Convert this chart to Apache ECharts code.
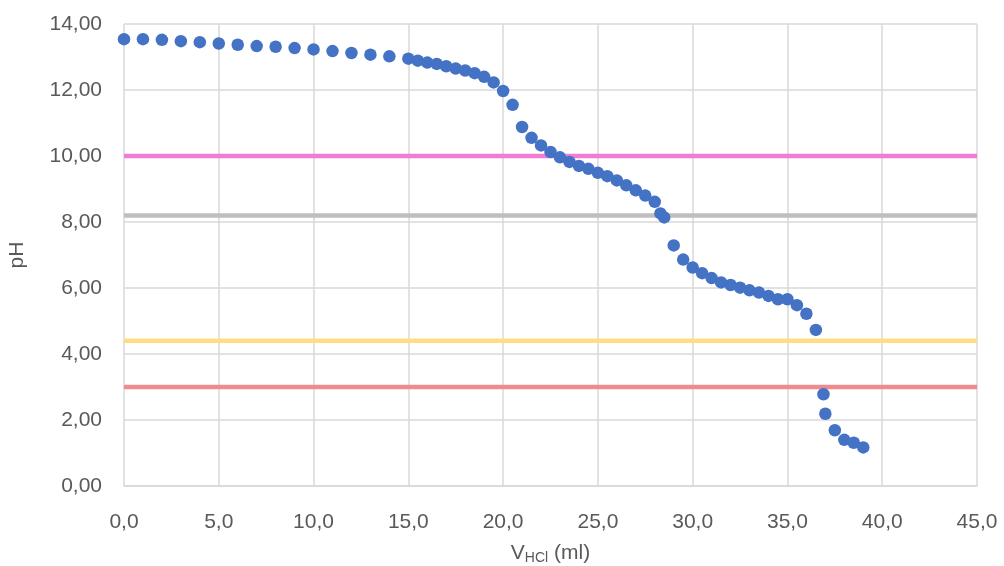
<!DOCTYPE html>
<html>
<head>
<meta charset="utf-8">
<script src="https://cdn.jsdelivr.net/npm/echarts@6/dist/echarts.min.js"></script>
<style>html,body{margin:0;padding:0;background:#fff}#c{width:1004px;height:566px}</style>
</head>
<body>
<div id="c"></div>
<script>
const volumes = [0,1,2,3,4,5,6,7,8,9,10,11,12,13,14,15,15.5,16,16.5,17,17.5,18,18.5,19,19.5,20,20.5,21,21.5,22,22.5,23,23.5,24,24.5,25,25.5,26,26.5,27,27.5,28,28.3,28.5,29,29.5,30,30.5,31,31.5,32,32.5,33,33.5,34,34.5,35,35.5,36,36.5,36.9,37,37.5,38,38.5,39];
const phValues = [13.54,13.54,13.52,13.48,13.45,13.41,13.37,13.33,13.31,13.27,13.23,13.18,13.12,13.07,13.02,12.95,12.89,12.83,12.79,12.72,12.65,12.59,12.51,12.40,12.23,11.97,11.55,10.88,10.55,10.32,10.12,9.96,9.82,9.70,9.61,9.49,9.39,9.26,9.11,8.96,8.80,8.61,8.26,8.14,7.29,6.86,6.62,6.45,6.30,6.17,6.09,6.01,5.93,5.86,5.76,5.66,5.66,5.48,5.22,4.73,2.78,2.19,1.69,1.40,1.31,1.17];
const indicatorLevels = [10.0, 8.2, 4.4, 3.0];
const indicatorColors = ['#F07CD4', '#BFBFBF', '#FFDD80', '#EE8A90'];
const xRange = [0, 45];

const chart = echarts.init(document.getElementById('c'), null, {renderer: 'canvas'});
const font = '"Liberation Sans", Arial, sans-serif';
const series = indicatorLevels.map((lv, i) => ({
  type: 'line',
  data: [[xRange[0], lv], [xRange[1], lv]],
  symbol: 'none',
  lineStyle: {color: indicatorColors[i], width: 4.5},
  silent: true,
  z: 2
}));
series.push({
  type: 'scatter',
  data: volumes.map((v, i) => [v, phValues[i]]),
  symbol: 'circle',
  symbolSize: 12.5,
  itemStyle: {color: '#4472C4', opacity: 1},
  z: 5
});
chart.setOption({
  animation: false,
  grid: {left: 124, right: 27, top: 24, bottom: 80, containLabel: false, outerBoundsMode: 'none'},
  xAxis: {
    type: 'value', min: 0, max: 45, interval: 5,
    axisLine: {show: true, lineStyle: {color: '#D9D9D9', width: 1.5}},
    axisTick: {show: false},
    splitLine: {show: true, lineStyle: {color: '#D9D9D9', width: 1.5}},
    axisLabel: {color: '#595959', fontFamily: font, fontSize: 21, margin: 26,
      formatter: v => v.toFixed(1).replace('.', ',')},
    name: '{v|V}{s|HCl}{v| (ml)}',
    nameLocation: 'middle', nameGap: 55,
    nameTextStyle: {
      rich: {
        v: {fontFamily: font, fontSize: 21, color: '#595959', lineHeight: 24, verticalAlign: 'middle'},
        s: {fontFamily: font, fontSize: 14, color: '#595959', lineHeight: 14, verticalAlign: 'bottom', padding: [10, 0, 0, 0]}
      }
    }
  },
  yAxis: {
    type: 'value', min: 0, max: 14, interval: 2,
    axisLine: {show: false},
    axisTick: {show: false},
    splitLine: {show: true, lineStyle: {color: '#D9D9D9', width: 1.5}},
    axisLabel: {color: '#595959', fontFamily: font, fontSize: 21, margin: 22,
      formatter: v => v.toFixed(2).replace('.', ',')},
    name: 'pH', nameLocation: 'middle', nameGap: 96,
    nameTextStyle: {color: '#595959', fontFamily: font, fontSize: 21}
  },
  series: series
});
</script>
</body>
</html>
